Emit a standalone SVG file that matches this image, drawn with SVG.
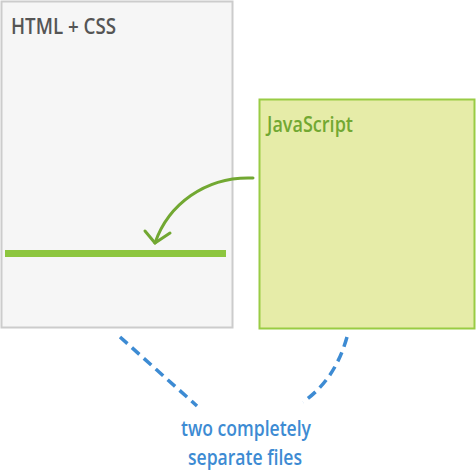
<svg xmlns="http://www.w3.org/2000/svg" width="476" height="471" viewBox="0 0 476 471">
  <style>
    .lbl { font-family: "Open Sans", "Noto Sans", sans-serif; font-size: 22px; font-weight: 600; }
    .note { font-family: "Open Sans", "Noto Sans", sans-serif; font-size: 22px; font-weight: 600; fill: #3d8bd3; }
    .dash { fill: none; stroke: #3d8bd3; stroke-width: 3.5; stroke-dasharray: 10 6; }
  </style>
  <rect width="476" height="471" fill="#ffffff"/>
  <g id="html-css">
    <rect x="1.5" y="1.5" width="231" height="326" fill="#f6f6f6" stroke="#cccccc" stroke-width="2"/>
    <text class="lbl" x="11" y="34" fill="#555555" textLength="105" lengthAdjust="spacingAndGlyphs">HTML + CSS</text>
    <rect x="5" y="250" width="221" height="7" fill="#8dc63f"/>
  </g>
  <g id="javascript">
    <rect x="259.5" y="99.5" width="215" height="229" fill="#e6eca8" stroke="#99cc44" stroke-width="2"/>
    <text class="lbl" x="267" y="132" fill="#72a832" textLength="86" lengthAdjust="spacingAndGlyphs">JavaScript</text>
  </g>
  <g id="connectors">
    <path d="M253 178 C205 176 168 205 155 243" fill="none" stroke="#72a832" stroke-width="3" stroke-linecap="round"/>
    <path d="M145 231 L155 243 L170 233" fill="none" stroke="#72a832" stroke-width="3" stroke-linecap="round" stroke-linejoin="round"/>
    <path class="dash" d="M120 337 L197 406"/>
    <path class="dash" d="M347 337 Q335 380 303 402"/>
  </g>
  <g id="note">
    <text class="note" x="181" y="436" textLength="130" lengthAdjust="spacingAndGlyphs">two completely</text>
    <text class="note" x="188" y="465" textLength="114" lengthAdjust="spacingAndGlyphs">separate files</text>
  </g>
</svg>
